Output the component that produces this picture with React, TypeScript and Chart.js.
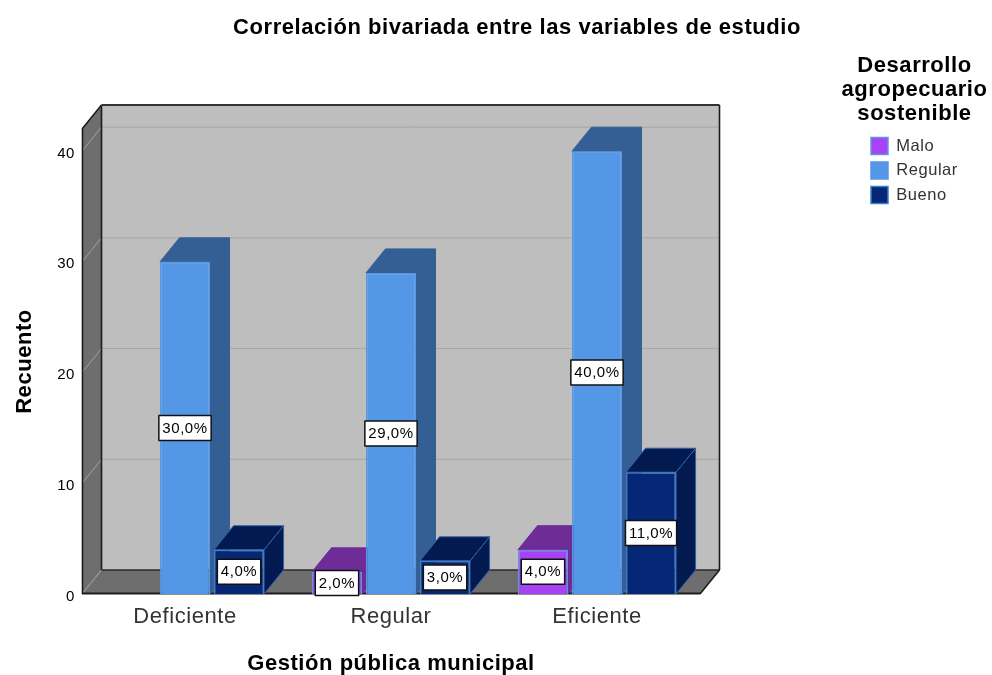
import React, { useEffect, useRef } from "react";
import { Chart, registerables } from "chart.js";

Chart.register(...registerables);

const titleText = "Correlación bivariada entre las variables de estudio";
const xTitle = "Gestión pública municipal";
const yTitle = "Recuento";
const legendTitleLines = ["Desarrollo", "agropecuario", "sostenible"];
const categories = ["Deficiente", "Regular", "Eficiente"];
const malo = [0, 2, 4];
const regular = [30, 29, 40];
const bueno = [4, 3, 11];
const maloLabels = ["", "2,0%", "4,0%"];
const regularLabels = ["30,0%", "29,0%", "40,0%"];
const buenoLabels = ["4,0%", "3,0%", "11,0%"];

const FONT = "'Liberation Sans', Arial, sans-serif";
const DX = 19.5;
const DY = -24;

const poly = (ctx: CanvasRenderingContext2D, pts: number[][], fill: string, stroke?: string, lw = 1) => {
  ctx.beginPath();
  pts.forEach((p, i) => (i ? ctx.lineTo(p[0], p[1]) : ctx.moveTo(p[0], p[1])));
  ctx.closePath();
  ctx.fillStyle = fill;
  ctx.fill();
  if (stroke) {
    ctx.strokeStyle = stroke;
    ctx.lineWidth = lw;
    ctx.lineJoin = "round";
    ctx.stroke();
  }
};

const line = (ctx: CanvasRenderingContext2D, x1: number, y1: number, x2: number, y2: number, color: string, lw: number) => {
  ctx.beginPath();
  ctx.moveTo(x1, y1);
  ctx.lineTo(x2, y2);
  ctx.strokeStyle = color;
  ctx.lineWidth = lw;
  ctx.stroke();
};

const scene3d = {
  id: "scene3d",
  beforeDraw(chart: any) {
    chart.ctx.letterSpacing = "0.55px";
  },
  afterLayout(chart: any) {
    chart.titleBlock.left = 42;
    chart.titleBlock.right = 992;
    const lg = chart.legend;
    lg.left = 863.5;
    lg.top = 130;
    lg.right = 992;
    lg.bottom = 230;
    lg.width = lg.right - lg.left;
    lg.height = lg.bottom - lg.top;
    chart.scales.y.getLabelItems().forEach((item: any) => {
      item.options.translation[1] += 2.5;
    });
  },
  beforeDatasetsDraw(chart: any) {
    const ctx: CanvasRenderingContext2D = chart.ctx;
    const { left, right, top, bottom } = chart.chartArea;
    const y = chart.scales.y;
    ctx.save();
    // back wall, side wall, floor
    poly(ctx, [[left + DX, top + DY], [right + DX, top + DY], [right + DX, bottom + DY], [left + DX, bottom + DY]], "#bebebe");
    poly(ctx, [[left, top], [left + DX, top + DY], [left + DX, bottom + DY], [left, bottom]], "#6e6e6e");
    poly(ctx, [[left, bottom], [left + DX, bottom + DY], [right + DX, bottom + DY], [right, bottom]], "#6e6e6e");
    // grid lines
    y.ticks.forEach((t: any) => {
      if (t.value === 0) return;
      const py = y.getPixelForValue(t.value);
      line(ctx, left, py, left + DX, py + DY, "#a3a3a3", 1);
      line(ctx, left + DX, py + DY, right + DX, py + DY, "#a6a6a6", 1);
    });
    line(ctx, left, bottom, left + DX, bottom + DY, "#a3a3a3", 1);
    // frame
    const dark = "#1c1c1c";
    line(ctx, left + 0.5, top, left + 0.5, bottom, dark, 1.6);
    line(ctx, left + DX, top + DY, left + DX, bottom + DY, dark, 1.6);
    line(ctx, left, top, left + DX, top + DY, dark, 1.6);
    line(ctx, left + DX, top + DY, right + DX, top + DY, "#333333", 2);
    line(ctx, right + DX, top + DY, right + DX, bottom + DY, dark, 1.6);
    line(ctx, left + DX, bottom + DY, right + DX, bottom + DY, "#2a2a2a", 1.4);
    line(ctx, right, bottom, right + DX, bottom + DY, dark, 1.6);
    line(ctx, left, bottom - 0.5, right, bottom - 0.5, dark, 1.8);

    // painter's order: left to right inside every category
    const metas = chart.getSortedVisibleDatasetMetas().slice().sort((a: any, b: any) => a.index - b.index);
    categories.forEach((_, ci) => {
      metas.forEach((meta: any) => {
        const ds = chart.data.datasets[meta.index];
        if (!ds.data[ci]) return;
        const bar = meta.data[ci];
        const { x, y: by, base, width } = bar.getProps(["x", "y", "base", "width"]);
        const x1 = x - width / 2;
        const x2 = x + width / 2;
        poly(ctx, [[x2, by], [x2 + DX, by + DY], [x2 + DX, base + DY], [x2, base]], ds.depthColor, ds.edgeColor, 1);
        poly(ctx, [[x1, by], [x1 + DX, by + DY], [x2 + DX, by + DY], [x2, by]], ds.depthColor, ds.edgeColor, 1);
        bar.draw(ctx);
      });
    });

    // value labels
    ctx.font = `15px ${FONT}`;
    ctx.textAlign = "center";
    ctx.textBaseline = "middle";
    metas.forEach((meta: any) => {
      const ds = chart.data.datasets[meta.index];
      categories.forEach((_, ci) => {
        const text = ds.valueLabels[ci];
        if (!text) return;
        const { x, y: by, base } = meta.data[ci].getProps(["x", "y", "base"]);
        const cy = (by + base) / 2;
        const w = ctx.measureText(text).width + 7;
        const h = 25;
        ctx.fillStyle = "#ffffff";
        ctx.strokeStyle = "#111111";
        ctx.lineWidth = 1.5;
        ctx.fillRect(x - w / 2, cy - h / 2, w, h);
        ctx.strokeRect(x - w / 2, cy - h / 2, w, h);
        ctx.fillStyle = "#000000";
        ctx.fillText(text, x, cy + 0.5);
      });
    });

    // legend heading
    ctx.font = `bold 22px ${FONT}`;
    ctx.fillStyle = "#000000";
    legendTitleLines.forEach((t, i) => ctx.fillText(t, 914.5, 66 + i * 24));
    ctx.restore();
    return false;
  },
};

export default function App() {
  const ref = useRef<HTMLCanvasElement>(null);
  useEffect(() => {
    const chart = new Chart(ref.current as HTMLCanvasElement, {
      type: "bar",
      plugins: [scene3d],
      data: {
        labels: categories,
        datasets: [
          { label: "Malo", data: malo, backgroundColor: "#a742f5", borderColor: "#5f95e6", borderWidth: 1.5, depthColor: "#6e2c96", edgeColor: "#6e2c96", valueLabels: maloLabels },
          { label: "Regular", data: regular, backgroundColor: "#5597e7", borderColor: "#5597e7", borderWidth: 1.5, depthColor: "#345f95", edgeColor: "#345f95", valueLabels: regularLabels },
          { label: "Bueno", data: bueno, backgroundColor: "#062775", borderColor: "#3f7acb", borderWidth: 1.5, depthColor: "#031a50", edgeColor: "#2f62a8", valueLabels: buenoLabels },
        ] as any,
      },
      options: {
        animation: false,
        responsive: false,
        devicePixelRatio: 1,
        categoryPercentage: 0.787,
        barPercentage: 0.926,
        layout: { padding: { right: 292 } },
        plugins: {
          tooltip: { enabled: false },
          title: {
            display: true,
            text: titleText,
            color: "#000000",
            font: { family: FONT, size: 22, weight: "bold", lineHeight: 1.2 },
            padding: { top: 15, bottom: 87.6 },
          },
          legend: {
            position: "chartArea",
            align: "start",
            labels: {
              boxWidth: 17,
              boxHeight: 17,
              padding: 7.5,
              color: "#333333",
              font: { family: FONT, size: 16.5 },
            },
          },
        },
        scales: {
          x: {
            afterFit: (s: any) => { s.height = 81; },
            grid: { display: false, drawTicks: false },
            border: { display: false },
            ticks: { color: "#333333", padding: 10, font: { family: FONT, size: 22 } },
            title: {
              display: true,
              text: xTitle,
              color: "#000000",
              font: { family: FONT, size: 22, weight: "bold", lineHeight: 1.2 },
              padding: { top: 0, bottom: -2 },
            },
          },
          y: {
            min: 0,
            max: 42,
            afterFit: (s: any) => { s.width = 82; },
            grid: { display: false, drawTicks: false },
            border: { display: false },
            ticks: { stepSize: 10, includeBounds: false, color: "#000000", padding: 7, font: { family: FONT, size: 15 } },
            title: {
              display: true,
              text: yTitle,
              color: "#000000",
              font: { family: FONT, size: 22, weight: "bold", lineHeight: 1.2 },
              padding: { top: 12, bottom: 0 },
            },
          },
        },
      } as any,
    });
    return () => chart.destroy();
  }, []);
  return (
    <div style={{ position: "fixed", left: 0, top: 0, width: 992, height: 675, background: "#ffffff" }}>
      <canvas ref={ref} width={992} height={675} style={{ display: "block" }} />
    </div>
  );
}
